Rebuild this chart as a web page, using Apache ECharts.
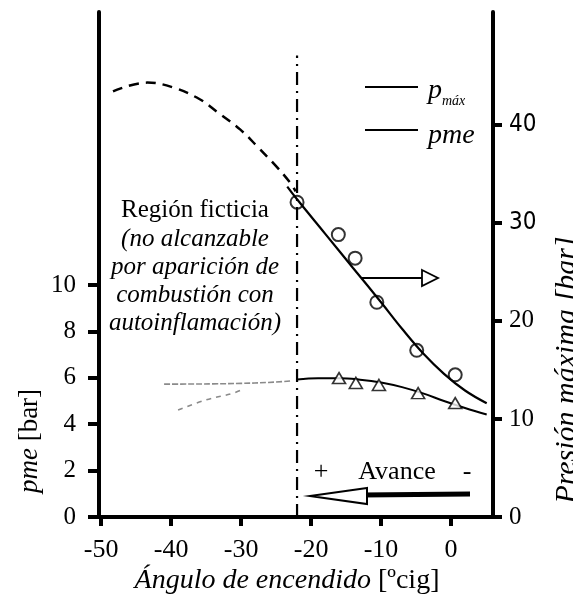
<!DOCTYPE html>
<html><head><meta charset="utf-8">
<script src="https://cdn.jsdelivr.net/npm/echarts@6/dist/echarts.min.js"></script>
<style>html,body{margin:0;padding:0;background:#fff}#c{width:573px;height:599px}</style>
</head><body><div id="c"></div>
<script>
// ---- data ----
const xTicks = [-50, -40, -30, -20, -10, 0];
const pmeTicks = [0, 2, 4, 6, 8, 10];
const pmaxTicks = [0, 10, 20, 30, 40];

const pmaxDashX = [-48.3, -43.4, -39.7, -35.9, -33.4, -30.1, -27.7, -24.9, -23.0, -22.2];
const pmaxDashY = [43.4, 44.3, 43.8, 42.6, 41.3, 39.5, 37.8, 35.7, 34.1, 33.2];
const pmaxSolidX = [-23.4, -22, -18, -14, -10, -7, -4, -1, 2, 5.1];
const pmaxSolidY = [33.7, 32.4, 28.9, 25.4, 21.9, 19.2, 16.7, 14.6, 12.9, 11.6];
const pmaxPtsX = [-22, -16.1, -13.7, -10.6, -4.9, 0.6];
const pmaxPtsY = [32.1, 28.8, 26.4, 21.9, 17.0, 14.5];

const pmeSolidX = [-22, -19, -16, -13, -10, -7, -4, -1, 2, 5.1];
const pmeSolidY = [5.93, 5.98, 5.98, 5.92, 5.8, 5.6, 5.33, 5.0, 4.7, 4.42];
const pmePtsX = [-16.0, -13.6, -10.3, -4.7, 0.6];
const pmePtsY = [5.99, 5.78, 5.69, 5.34, 4.91];
const pmeFaintUpX = [-41, -38.7, -34, -30, -26.1, -23];
const pmeFaintUpY = [5.73, 5.73, 5.74, 5.76, 5.8, 5.86];
const pmeFaintLowX = [-39, -35.1, -31.1, -29.7];
const pmeFaintLowY = [4.61, 5.04, 5.34, 5.52];

const guideX = [-22, -22];
const guideY = [0, 19.9];

const zip = (a, b) => a.map((v, i) => [v, b[i]]);
const SERIF = "'Liberation Serif', 'DejaVu Serif', serif";
const NARROW = "'Liberation Sans Narrow', 'DejaVu Sans Condensed', 'Liberation Sans', sans-serif";

const chart = echarts.init(document.getElementById('c'), null, {renderer: 'canvas'});
const axisLine = {show: true, onZero: false, lineStyle: {color: '#000', width: 4}};
const txt = (x, y, text, font, extra) => Object.assign({type: 'text', x: x, y: y,
  style: {text: text, fill: '#000', font: font, textAlign: 'center', textVerticalAlign: 'middle'}}, extra || {});

chart.setOption({
  backgroundColor: '#fff',
  animation: false,
  grid: {left: 99, right: 80, top: 12, bottom: 82, containLabel: false},
  xAxis: {
    type: 'value', min: -50.3, max: 6,
    axisLine: axisLine,
    axisTick: {show: true, inside: false, length: 9, lineStyle: {color: '#000', width: 4}, customValues: xTicks},
    axisLabel: {customValues: xTicks, color: '#000', fontFamily: SERIF, fontSize: 26, margin: 20},
    splitLine: {show: false}
  },
  yAxis: [{
    type: 'value', min: 0, max: 21.77, position: 'left',
    axisLine: axisLine,
    axisTick: {show: true, inside: false, length: 11, lineStyle: {color: '#000', width: 4}, customValues: pmeTicks},
    axisLabel: {customValues: pmeTicks, color: '#000', fontFamily: SERIF, fontSize: 25, margin: 23},
    splitLine: {show: false}
  }, {
    type: 'value', min: 0, max: 51.5, position: 'right',
    axisLine: axisLine,
    axisTick: {show: true, inside: false, length: 9, lineStyle: {color: '#000', width: 4}, customValues: pmaxTicks},
    axisLabel: {
      customValues: pmaxTicks, color: '#000', margin: 16,
      formatter: v => (v >= 30 ? '{s|' + v + '}' : '{r|' + v + '}'),
      rich: {
        s: {fontFamily: NARROW, fontSize: 24, color: '#000'},
        r: {fontFamily: SERIF, fontSize: 25, color: '#000'}
      }
    },
    splitLine: {show: false}
  }],
  series: [
    {type: 'line', yAxisIndex: 0, data: zip(guideX, guideY), symbol: 'none',
     lineStyle: {color: '#000', width: 2.2, type: [13, 6, 2, 6]}, z: 2},
    {type: 'line', yAxisIndex: 1, data: zip(pmaxDashX, pmaxDashY), smooth: 0.4, symbol: 'none',
     lineStyle: {color: '#000', width: 2.5, type: [10, 7]}},
    {type: 'line', yAxisIndex: 1, data: zip(pmaxSolidX, pmaxSolidY), smooth: 0.4, symbol: 'none',
     lineStyle: {color: '#000', width: 2.2}},
    {type: 'scatter', yAxisIndex: 1, data: zip(pmaxPtsX, pmaxPtsY), symbol: 'circle', symbolSize: 13,
     itemStyle: {color: 'rgba(255,255,255,0)', borderColor: '#000', borderWidth: 2}, z: 5},
    {type: 'line', yAxisIndex: 0, data: zip(pmeSolidX, pmeSolidY), smooth: 0.4, symbol: 'none',
     lineStyle: {color: '#000', width: 2}},
    {type: 'scatter', yAxisIndex: 0, data: zip(pmePtsX, pmePtsY), symbol: 'triangle', symbolSize: [13, 11],
     itemStyle: {color: '#fff', borderColor: '#000', borderWidth: 1.6}, z: 5},
    {type: 'line', yAxisIndex: 0, data: zip(pmeFaintUpX, pmeFaintUpY), smooth: 0.4, symbol: 'none',
     lineStyle: {color: '#8a8a8a', width: 1.6, type: [6, 2]}},
    {type: 'line', yAxisIndex: 0, data: zip(pmeFaintLowX, pmeFaintLowY), smooth: 0.4, symbol: 'none',
     lineStyle: {color: '#8a8a8a', width: 1.6, type: [5, 5]}}
  ],
  graphic: [
    // legend
    {type: 'line', shape: {x1: 365, y1: 87, x2: 418, y2: 87}, style: {stroke: '#000', lineWidth: 2}},
    {type: 'line', shape: {x1: 365, y1: 130, x2: 418, y2: 130}, style: {stroke: '#000', lineWidth: 2}},
    {type: 'text', x: 428, y: 91, style: {text: 'p', fill: '#000', font: 'italic 28px ' + SERIF, textAlign: 'left', textVerticalAlign: 'middle'}},
    {type: 'text', x: 442, y: 101, style: {text: 'máx', fill: '#000', font: 'italic 14px ' + SERIF, textAlign: 'left', textVerticalAlign: 'middle'}},
    {type: 'text', x: 428, y: 136, style: {text: 'pme', fill: '#000', font: 'italic 28px ' + SERIF, textAlign: 'left', textVerticalAlign: 'middle'}},
    // Region text
    txt(195, 210, 'Región ficticia', '25px ' + SERIF),
    txt(195, 239, '(no alcanzable', 'italic 25px ' + SERIF),
    txt(195, 267, 'por aparición de', 'italic 25px ' + SERIF),
    txt(195, 295, 'combustión con', 'italic 25px ' + SERIF),
    txt(195, 323, 'autoinflamación)', 'italic 25px ' + SERIF),
    // right arrow
    {type: 'line', shape: {x1: 362, y1: 278, x2: 423, y2: 278}, style: {stroke: '#000', lineWidth: 1.8}},
    {type: 'polygon', shape: {points: [[422, 270], [438, 278], [422, 286]]}, style: {fill: '#fff', stroke: '#000', lineWidth: 1.8}},
    // Avance
    txt(321, 472, '+', '26px ' + SERIF),
    txt(397, 472, 'Avance', '26px ' + SERIF),
    txt(467, 472, '-', '26px ' + SERIF),
    {type: 'line', shape: {x1: 362, y1: 495, x2: 470, y2: 494}, style: {stroke: '#000', lineWidth: 5}},
    {type: 'polygon', shape: {points: [[367, 488], [310, 496], [367, 504]]}, style: {fill: '#fff', stroke: '#000', lineWidth: 2}},
    // axis titles
    {type: 'text', x: 30, y: 441, rotation: Math.PI / 2,
     style: {text: '{i|pme} [bar]', fill: '#000', font: '27px ' + SERIF, textAlign: 'center', textVerticalAlign: 'middle',
       rich: {i: {fontFamily: SERIF, fontStyle: 'italic', fontSize: 27}}}},
    {type: 'text', x: 567, y: 370, rotation: Math.PI / 2,
     style: {text: 'Presión máxima [bar]', fill: '#000', font: 'italic 30px ' + SERIF, textAlign: 'center', textVerticalAlign: 'middle'}},
    {type: 'text', x: 287, y: 581,
     style: {text: '{i|Ángulo de encendido} [ºcig]', fill: '#000', font: '28px ' + SERIF, textAlign: 'center', textVerticalAlign: 'middle',
       rich: {i: {fontFamily: SERIF, fontStyle: 'italic', fontSize: 28}}}}
  ]
});
</script>
</body></html>
